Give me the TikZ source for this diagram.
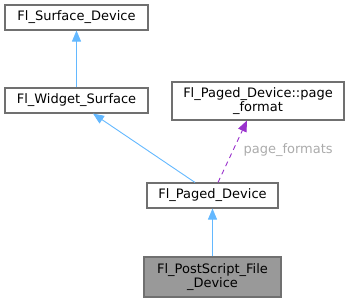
\documentclass[tikz,border=0pt]{standalone}
\usepackage{fontspec}
\setmainfont{DejaVu Sans}
\usetikzlibrary{arrows.meta}
\definecolor{nodeborder}{HTML}{707070}
\definecolor{nodefill}{HTML}{999999}
\definecolor{inherit}{HTML}{63B8FF}
\definecolor{usage}{HTML}{9A32CD}
\definecolor{labelgray}{HTML}{ABABAB}
\tikzset{
  cls/.style={draw=nodeborder, line width=1.1pt, fill=white, inner sep=0pt,
    align=center, font=\fontsize{13}{14}\selectfont},
  current/.style={cls, fill=nodefill},
  inh/.style={draw=inherit, line width=0.9pt,
    -{Triangle[length=11pt,width=9pt,fill=inherit]}},
  use/.style={draw=usage, line width=0.9pt, dashed, dash pattern=on 5pt off 4pt,
    -{Triangle[length=11pt,width=9pt,fill=usage]}},
  elabel/.style={text=labelgray, font=\fontsize{13}{14}\selectfont}
}
\begin{document}
\begin{tikzpicture}[x=1pt,y=-1pt]
\useasboundingbox (0,0) rectangle (349,303);
\node[cls, minimum width=143pt, minimum height=25pt] (surf) at (76.5,17.5) {Fl\_Surface\_Device};
\node[cls, minimum width=143pt, minimum height=25pt] (widget) at (76.5,100.5) {Fl\_Widget\_Surface};
\node[cls, minimum width=172pt, minimum height=38pt] (pf) at (258,101) {Fl\_Paged\_Device::page\\\_format};
\node[cls, minimum width=131pt, minimum height=25pt] (paged) at (212.5,195.5) {Fl\_Paged\_Device};
\node[current, minimum width=137pt, minimum height=40pt] (ps) at (212.5,277) {Fl\_PostScript\_File\\\_Device};

\draw[inh] (widget.north) -- (surf.south);
\draw[inh] ([xshift=-17.5pt]paged.north) -- ([xshift=16.5pt]widget.south);
\draw[use] ([xshift=5.5pt]paged.north) -- ([xshift=-11pt]pf.south);
\node[elabel, anchor=west] (lbl) at (240,150) {page\_formats};
\draw[inh] (ps.north) -- (paged.south);
\end{tikzpicture}
\end{document}
